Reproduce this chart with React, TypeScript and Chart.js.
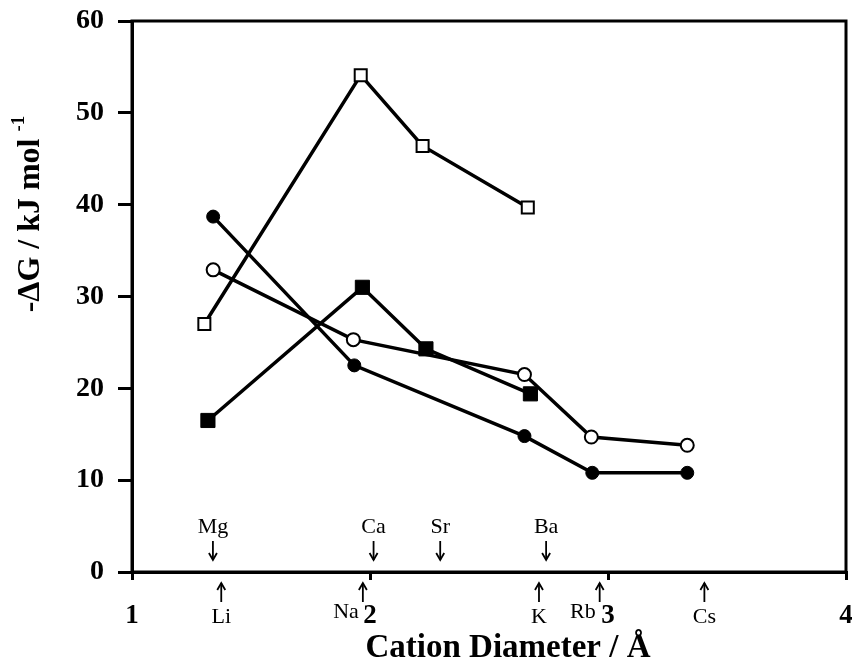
import React, { useEffect, useRef } from "react";
import { Chart, registerables } from "chart.js";

Chart.register(...registerables);

// Series data (x = cation diameter / Å, y = -ΔG / kJ mol-1)
const openSquareX = [1.304, 1.961, 2.221, 2.663];
const openSquareY = [27.0, 54.1, 46.4, 39.7];

const filledSquareX = [1.319, 1.968, 2.235, 2.674];
const filledSquareY = [16.5, 31.0, 24.3, 19.4];

const filledCircleX = [1.341, 1.934, 2.649, 2.934, 3.333];
const filledCircleY = [38.7, 22.5, 14.8, 10.8, 10.8];

const openCircleX = [1.341, 1.93, 2.649, 2.93, 3.333];
const openCircleY = [32.9, 25.3, 21.5, 14.7, 13.8];

// Cation markers along the x axis
const divalentNames = ["Mg", "Ca", "Sr", "Ba"];
const divalentPos = [1.34, 2.015, 2.295, 2.74];
const monovalentNames = ["Li", "Na", "K", "Rb", "Cs"];
const monovalentPos = [1.375, 1.97, 2.71, 2.965, 3.405];

const xTicks = [1, 2, 3, 4];
const yTicks = [0, 10, 20, 30, 40, 50, 60];

const xTitle = "Cation Diameter / Å";
const yTitle = "-ΔG / kJ mol";
const yTitleSup = "-1";

const FONT = "'Liberation Serif', 'Times New Roman', serif";
const CANVAS_W = 857;

function pts(xs: number[], ys: number[]) {
  return xs.map((x, i) => ({ x, y: ys[i] }));
}

export default function App() {
  const ref = useRef<HTMLCanvasElement | null>(null);

  useEffect(() => {
    if (!ref.current) return;

    const annotPlugin = {
      id: "annot",
      afterDraw(chart: any) {
        const ctx = chart.ctx as CanvasRenderingContext2D;
        const { chartArea } = chart;
        const xs = chart.scales.x;
        ctx.save();
        // box
        ctx.strokeStyle = "#000";
        ctx.lineWidth = 3;
        ctx.strokeRect(chartArea.left, chartArea.top, chartArea.right - chartArea.left, chartArea.bottom - chartArea.top);

        // element labels
        ctx.fillStyle = "#000";
        ctx.font = `22px ${FONT}`;
        ctx.lineWidth = 1.8;
        const drawArrow = (x: number, y0: number, y1: number) => {
          ctx.beginPath();
          ctx.moveTo(x, y0);
          ctx.lineTo(x, y1);
          ctx.stroke();
          const dir = y1 > y0 ? 1 : -1;
          ctx.beginPath();
          ctx.moveTo(x - 4, y1 - dir * 7);
          ctx.lineTo(x, y1);
          ctx.lineTo(x + 4, y1 - dir * 7);
          ctx.stroke();
        };
        const base = chartArea.bottom;
        divalentNames.forEach((n, i) => {
          const px = xs.getPixelForValue(divalentPos[i]);
          ctx.textAlign = "center";
          ctx.textBaseline = "middle";
          ctx.fillText(n, px, base - 45);
          drawArrow(px, base - 31, base - 12);
        });
        monovalentNames.forEach((n, i) => {
          const px = xs.getPixelForValue(monovalentPos[i]);
          drawArrow(px, base + 30, base + 11);
          ctx.textBaseline = "middle";
          if (n === "Na" || n === "Rb") {
            ctx.textAlign = "right";
            ctx.fillText(n, px - 4, base + 40);
          } else {
            ctx.textAlign = "center";
            ctx.fillText(n, px, base + 45);
          }
        });

        // x title
        ctx.font = `bold 33px ${FONT}`;
        ctx.textAlign = "center";
        ctx.textBaseline = "alphabetic";
        ctx.fillText(xTitle, 508, 657);

        // y title (rotated)
        ctx.translate(39, 214);
        ctx.rotate(-Math.PI / 2);
        ctx.font = `bold 32px ${FONT}`;
        const mainW = ctx.measureText(yTitle).width;
        ctx.font = `bold 19px ${FONT}`;
        const supW = ctx.measureText(yTitleSup).width;
        const total = mainW + 7 + supW;
        ctx.textAlign = "left";
        ctx.font = `bold 32px ${FONT}`;
        ctx.fillText(yTitle, -total / 2, 0);
        ctx.font = `bold 19px ${FONT}`;
        ctx.fillText(yTitleSup, -total / 2 + mainW + 7, -15);
        ctx.restore();
      },
    };

    const chart = new Chart(ref.current, {
      type: "line",
      data: {
        datasets: [
          {
            data: pts(openSquareX, openSquareY),
            borderColor: "#000",
            borderWidth: 3.5,
            pointStyle: "rect",
            pointRadius: 8.5,
            pointBorderWidth: 2,
            pointBackgroundColor: "#fff",
            pointBorderColor: "#000",
          },
          {
            data: pts(filledSquareX, filledSquareY),
            borderColor: "#000",
            borderWidth: 3.5,
            pointStyle: "rect",
            pointRadius: 10,
            pointBorderWidth: 1,
            pointBackgroundColor: "#000",
            pointBorderColor: "#000",
          },
          {
            data: pts(filledCircleX, filledCircleY),
            borderColor: "#000",
            borderWidth: 3.5,
            pointStyle: "circle",
            pointRadius: 6.5,
            pointBorderWidth: 1,
            pointBackgroundColor: "#000",
            pointBorderColor: "#000",
          },
          {
            data: pts(openCircleX, openCircleY),
            borderColor: "#000",
            borderWidth: 3.5,
            pointStyle: "circle",
            pointRadius: 6.5,
            pointBorderWidth: 2,
            pointBackgroundColor: "#fff",
            pointBorderColor: "#000",
          },
        ],
      },
      options: {
        animation: false,
        responsive: false,
        maintainAspectRatio: false,
        layout: { padding: { left: 0, right: 0, top: 21, bottom: 0 } },
        plugins: { legend: { display: false }, tooltip: { enabled: false } },
        scales: {
          x: {
            type: "linear",
            min: 1,
            max: 4,
            afterBuildTicks: (s: any) => {
              s.ticks = xTicks.map((v) => ({ value: v }));
            },
            afterFit: (s: any) => {
              s.height = 90;
              s.paddingLeft = 0;
              s.paddingRight = 0;
            },
            border: { display: true, color: "#000", width: 3 },
            grid: { drawOnChartArea: false, drawTicks: true, tickLength: 8, color: "#000", lineWidth: 3 },
            ticks: {
              color: "#000",
              font: { family: FONT, size: 27, weight: "bold" },
              padding: 20,
              maxRotation: 0,
              autoSkip: false,
            },
          },
          y: {
            type: "linear",
            min: 0,
            max: 60,
            afterBuildTicks: (s: any) => {
              s.ticks = yTicks.map((v) => ({ value: v }));
            },
            afterFit: (s: any) => {
              s.width = 132;
              s.paddingTop = 0;
              s.paddingBottom = 0;
            },
            border: { display: true, color: "#000", width: 3 },
            grid: { drawOnChartArea: false, drawTicks: true, tickLength: 14, color: "#000", lineWidth: 3 },
            ticks: {
              color: "#000",
              font: { family: FONT, size: 28, weight: "bold" },
              padding: 14,
              autoSkip: false,
            },
          },
        },
      },
      plugins: [annotPlugin],
    } as any);

    return () => chart.destroy();
  }, []);

  return (
    <div style={{ position: "absolute", left: 0, top: 0, width: 852, height: 662, overflow: "hidden", background: "#fff" }}>
      <canvas ref={ref} width={CANVAS_W} height={662} style={{ width: CANVAS_W, height: 662, display: "block" }} />
    </div>
  );
}
